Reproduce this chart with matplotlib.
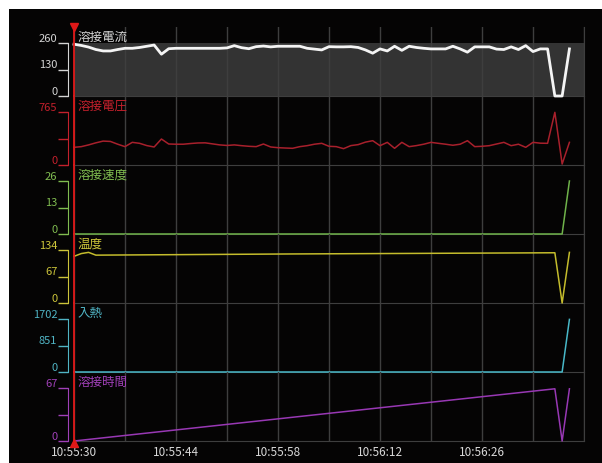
import numpy as np
import matplotlib
matplotlib.use("Agg")
import matplotlib.pyplot as plt
from matplotlib.patches import Rectangle

plt.rcParams['font.family'] = ['Noto Sans CJK JP', 'DejaVu Sans']

# one sample per second, starting 10:55:30
sec = np.arange(69)

current = [254, 248, 240, 228, 221, 221, 228, 234, 234, 238,
           244, 250, 205, 232, 234, 234, 234, 234, 234, 234,
           234, 236, 247, 237, 232, 242, 245, 241, 244, 244,
           244, 244, 234, 230, 226, 242, 241, 241, 242, 238,
           226, 210, 231, 221, 244, 224, 244, 238, 234, 231,
           231, 231, 244, 231, 215, 241, 241, 241, 230, 228,
           241, 228, 247, 218, 231, 231, 0, 0, 231]

voltage = [255, 265, 290, 320, 345, 340, 300, 265, 327, 313,
           280, 260, 375, 303, 300, 300, 310, 318, 320, 305,
           290, 282, 290, 279, 270, 265, 303, 260, 250, 245,
           241, 265, 279, 300, 313, 270, 265, 236, 280, 294,
           330, 351, 279, 327, 241, 327, 265, 280, 300, 327,
           313, 300, 285, 300, 351, 265, 270, 279, 303, 327,
           279, 300, 255, 327, 315, 313, 760, 14, 327]

speed_t = [0, 67, 68]
speed = [0, 0, 26]

temp_t = [0, 1, 2, 3, 30, 66, 67, 68]
temp = [118, 125, 128, 121, 124, 127, 0, 128]

heat_t = [0, 67, 68]
heat = [0, 0, 1690]

weld_t = [0, 66, 67, 68]
weld_time = [0, 66, 0, 66]

names = ["溶接電流", "溶接電圧", "溶接速度", "温度", "入熱", "溶接時間"]
y_max = [260, 765, 26, 134, 1702, 67]
mid_labels = ["130", "", "13", "67", "851", ""]

tick_pos = [0, 14, 28, 42, 56]
tick_labels = ["10:55:30", "10:55:44", "10:55:58", "10:56:12", "10:56:26"]

line_colors = ['#f4f4f4', '#a8202c', '#6fb24a', '#c4bc2c', '#48b8c8', '#9838b4']
text_colors = ['#d4d4d4', '#c4202c', '#80bc50', '#ccc43a', '#50b4c4', '#a040b8']
line_widths = [2.0, 1.1, 1.1, 1.1, 1.1, 1.1]

series = [(sec, current), (sec, voltage), (speed_t, speed),
          (temp_t, temp), (heat_t, heat), (weld_t, weld_time)]

W, H = 602, 464
fig = plt.figure(figsize=(W / 100, H / 100), dpi=100, facecolor='white')
fig.add_artist(Rectangle((9 / W, 0), 1, 1 - 10 / H, transform=fig.transFigure,
                         facecolor='#050404', edgecolor='none', zorder=0))

left, right = 74 / W, 584 / W
top_px, panel_px = 28, 69
grid_c = '#3e3e3e'

axes = []
for i, (t, v) in enumerate(series):
    y0 = 1 - (top_px + panel_px * (i + 1)) / H
    ax = fig.add_axes([left, y0, right - left, panel_px / H])
    ax.set_facecolor('none')
    ax.set_xlim(0, 70)
    ax.set_ylim(0, y_max[i] * panel_px / 53)

    if i == 0:
        ax.axhspan(0, y_max[0], color='#333333', zorder=0, lw=0)
    ax.plot(t, v, color=line_colors[i], lw=line_widths[i], clip_on=False, zorder=3)

    # spines
    ax.spines['top'].set_visible(False)
    ax.spines['right'].set_color(grid_c)
    ax.spines['bottom'].set_color(grid_c)
    ax.spines['left'].set_position(('outward', 4))
    ax.spines['left'].set_bounds(0, y_max[i])
    ax.spines['left'].set_color(text_colors[i])

    ax.set_yticks([0, y_max[i] / 2, y_max[i]], ['0', mid_labels[i], str(y_max[i])], va='bottom')
    ax.tick_params(axis='y', colors=text_colors[i], length=7, width=1, pad=1, labelsize=8)

    ax.set_xticks(tick_pos)
    ax.set_xticks(range(0, 71, 7), minor=True)
    ax.tick_params(axis='x', which='both', length=0)
    ax.grid(axis='x', which='both', color=grid_c, lw=1)
    ax.set_axisbelow(True)
    if i < 5:
        ax.tick_params(labelbottom=False)
    else:
        ax.set_xticklabels(tick_labels)
        ax.tick_params(axis='x', colors='#d8d8d8', labelsize=8.5, pad=3)

    ax.text(0.006, 0.87, names[i], transform=ax.transAxes, color=text_colors[i],
            fontsize=9, va='center', ha='left')

    # cursor at start
    ax.axvline(0, color='#e01818', lw=1.3, clip_on=False, zorder=5)
    axes.append(ax)

axes[0].plot([0], [1.0], marker='v', ms=6, color='#e01818',
             transform=axes[0].get_xaxis_transform(), clip_on=False, zorder=6)
axes[-1].plot([0], [-0.03], marker='^', ms=6, color='#e01818',
              transform=axes[-1].get_xaxis_transform(), clip_on=False, zorder=6)

fig.savefig('out.png', dpi=100, facecolor=fig.get_facecolor())
